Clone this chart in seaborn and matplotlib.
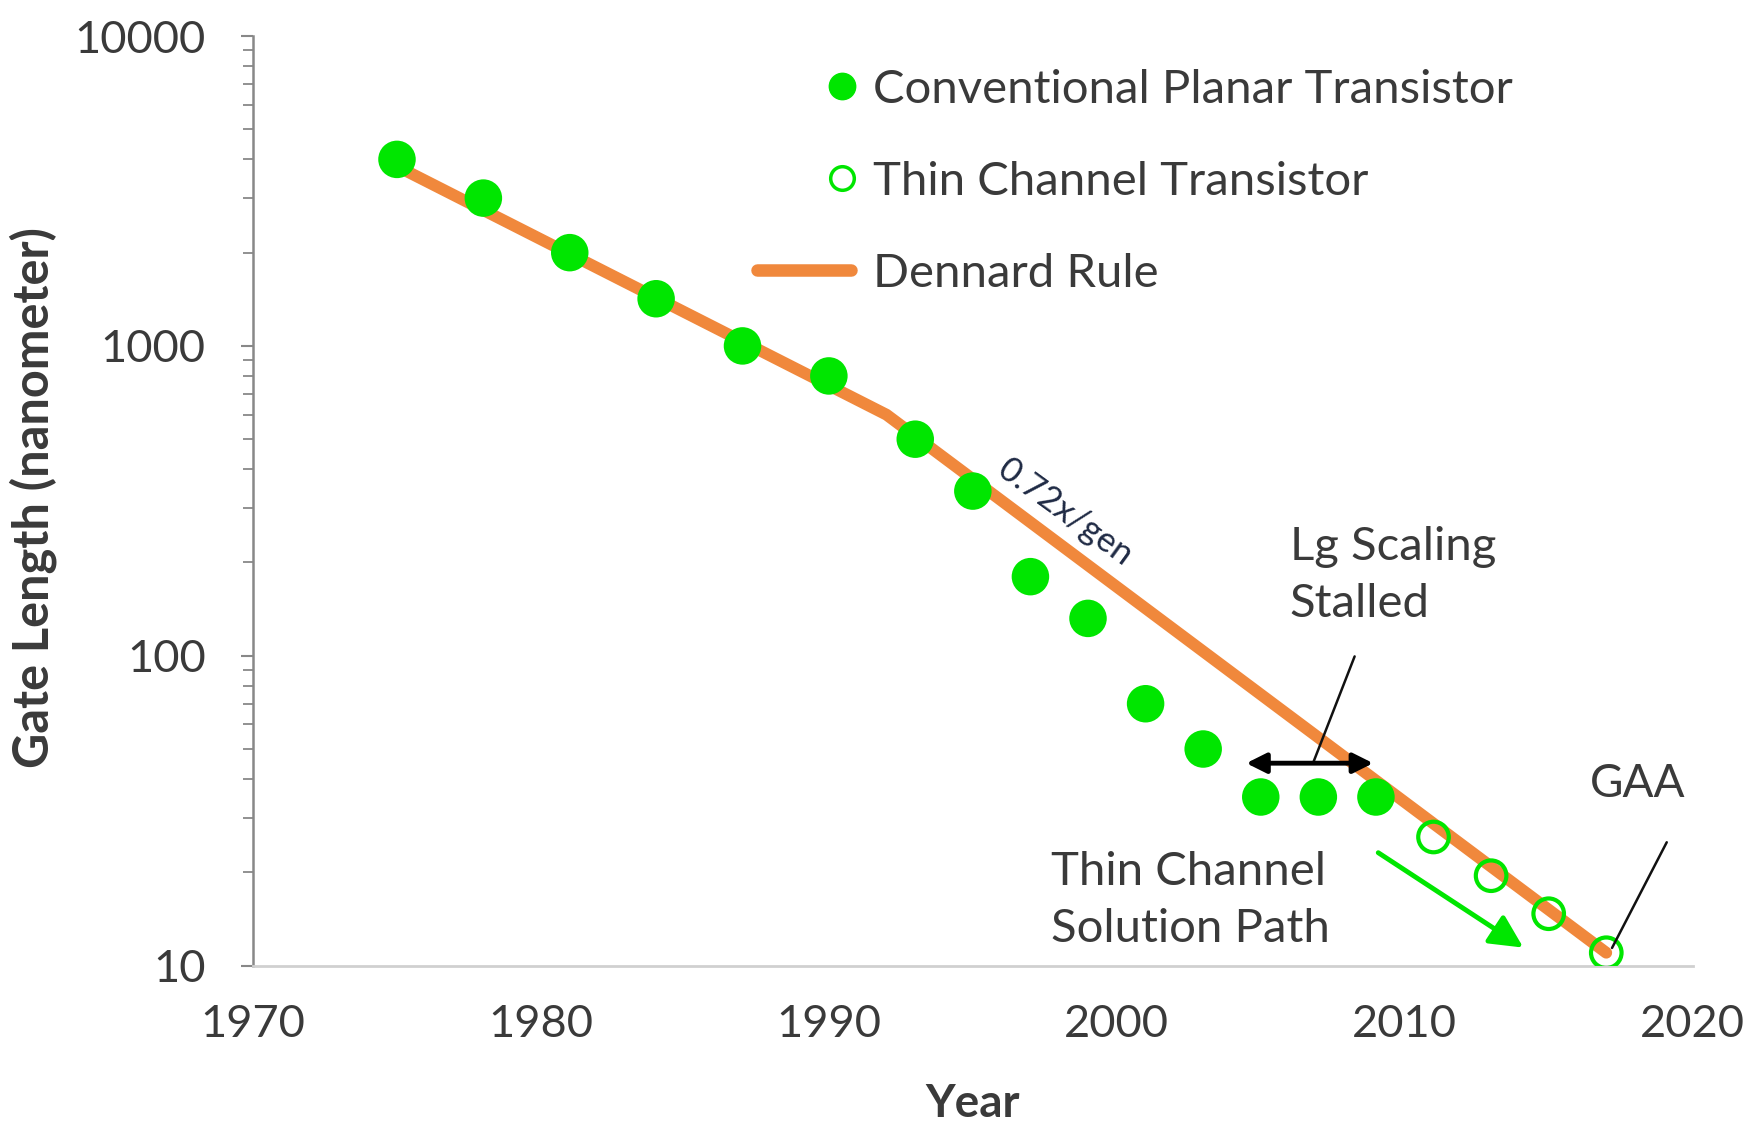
import numpy as np
import seaborn as sns
import matplotlib.pyplot as plt
from matplotlib.lines import Line2D
from matplotlib.legend_handler import HandlerLine2D

# conventional planar transistors (filled dots)
planar_years = [1975, 1978, 1981, 1984, 1987, 1990, 1993, 1995, 1997, 1999, 2001, 2003, 2005, 2007, 2009]
planar_lg = [4000, 3000, 2000, 1420, 1000, 800, 500, 340, 180, 132, 70, 50, 35, 35, 35]

# thin channel transistors (open circles)
thin_years = [2011, 2013, 2015, 2017]
thin_lg = [26, 19.5, 14.7, 11]

# Dennard rule trend line
dennard_years = [1975, 1992, 2017]
dennard_lg = [3800, 600, 11]

GREEN = "#00e600"
ORANGE = "#f0883c"
TXT = "#3a3a3a"

sns.set_theme(style="white")
plt.rcParams["font.family"] = ["Lato", "DejaVu Sans"]

fig = plt.figure(figsize=(17.45, 11.28), dpi=100)
ax = fig.add_axes([0.145, 0.144, 0.825, 0.824])

sns.lineplot(x=dennard_years, y=dennard_lg, ax=ax, color=ORANGE, lw=8.5, zorder=2)
sns.scatterplot(x=planar_years, y=planar_lg, ax=ax, color=GREEN, s=27**2, edgecolor="none", zorder=3)
sns.scatterplot(x=thin_years, y=thin_lg, ax=ax, facecolor="none", edgecolor=GREEN, s=22**2, linewidth=3, zorder=3)

ax.set_yscale("log")
ax.set_xlim(1970, 2020)
ax.set_ylim(10, 10000)
ax.set_xticks(range(1970, 2021, 10))
ax.set_yticks([10, 100, 1000, 10000])
ax.set_yticklabels(["10", "100", "1000", "10000"])

for s in ["top", "right"]:
    ax.spines[s].set_visible(False)
ax.spines["left"].set_color("#888888")
ax.spines["left"].set_linewidth(1.8)
ax.spines["bottom"].set_color("#d0d0d0")
ax.spines["bottom"].set_linewidth(2)

ax.tick_params(axis="y", which="major", left=True, length=9, width=1.5, color="#888888",
               labelsize=32.5, labelcolor=TXT, pad=25)
ax.tick_params(axis="y", which="minor", left=True, length=7, width=1.3, color="#888888")
ax.tick_params(axis="x", length=0, labelsize=32.5, labelcolor=TXT, pad=28)

ax.set_xlabel("Year", fontsize=33, fontweight="bold", color=TXT)
ax.set_ylabel("Gate Length (nanometer)", fontsize=35, fontweight="bold", color=TXT)
ax.xaxis.set_label_coords(0.5, -0.126)
ax.yaxis.set_label_coords(-0.136, 0.503)

# annotations
ax.text(1998.2, 291, "0.72x/gen", rotation=-36, fontsize=25, color="#1f2a44",
        ha="center", va="center", rotation_mode="anchor")
ax.text(2006.0, 182, "Lg Scaling\nStalled", fontsize=34, color=TXT, ha="left", va="center",
        linespacing=1.45)
ax.plot([2008.26, 2006.83], [99.5, 45.4], color="#111111", lw=1.8, zorder=4)
ax.annotate("", xy=(2009.0, 45), xytext=(2004.4, 45),
            arrowprops=dict(arrowstyle="<|-|>", color="black", lw=3.5, mutation_scale=30), zorder=5)
ax.text(1997.7, 16.2, "Thin Channel\nSolution Path", fontsize=34, color=TXT, ha="left", va="center",
        linespacing=1.45)
ax.annotate("", xy=(2014.2, 11.3), xytext=(2009.0, 23.4),
            arrowprops=dict(arrowstyle="-|>,head_length=0.5,head_width=0.25", color=GREEN, lw=3.5,
                            mutation_scale=40), zorder=5)
ax.text(2018.1, 38.5, "GAA", fontsize=33, color=TXT, ha="center", va="center")
ax.plot([2019.1, 2017.2], [25, 11.4], color="#111111", lw=1.8, zorder=4)


class EndMarker(HandlerLine2D):
    # put the legend marker at the right end of the handle box
    def get_xdata(self, legend, xdescent, ydescent, width, height, fontsize):
        xm = -xdescent + width - 0.2 * fontsize
        return np.array([xm, xm]), np.array([xm])


h_planar = Line2D([], [], ls="none", marker="o", ms=19, mfc=GREEN, mec=GREEN)
h_thin = Line2D([], [], ls="none", marker="o", ms=17, mfc="none", mec=GREEN, mew=2.5)
h_dennard = Line2D([], [], color=ORANGE, lw=9)
labels = ["Conventional Planar Transistor", "Thin Channel Transistor", "Dennard Rule"]
ax.legend([h_planar, h_thin, h_dennard], labels, loc="upper left", bbox_to_anchor=(0.35, 0.965),
          frameon=False, fontsize=34, handlelength=2.0, handletextpad=0.45, labelspacing=1.06,
          borderpad=0, borderaxespad=0, labelcolor=TXT, numpoints=1,
          handler_map={h_planar: EndMarker(), h_thin: EndMarker()})

fig.savefig("out.png", dpi=100, facecolor="white")
